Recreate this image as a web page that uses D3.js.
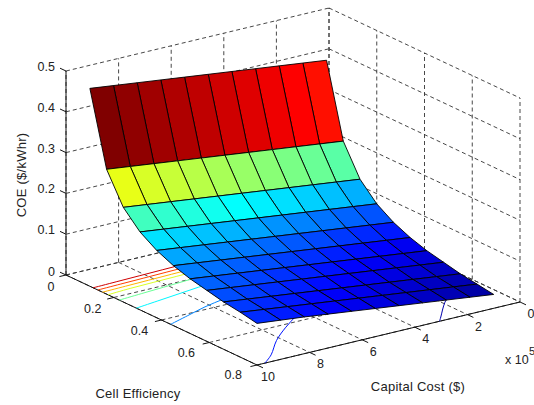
<!DOCTYPE html>
<html><head><meta charset="utf-8">
<script src="https://cdnjs.cloudflare.com/ajax/libs/d3/7.8.5/d3.min.js"></script>
<style>html,body{margin:0;padding:0;background:#fff;overflow:hidden}svg{display:block}text{font-family:"Liberation Sans",Arial,sans-serif;fill:#222}</style>
</head><body><svg id="c" width="534" height="405"></svg>
<script>
const costs=[1,1.9,2.8,3.7,4.6,5.5,6.4,7.3,8.2,9.1,10];
const efficiencies=[0.1,0.17,0.24,0.31,0.38,0.45,0.52,0.59,0.66,0.73,0.8];
const coe=[
[.415,.422,.429,.436,.443,.450,.457,.464,.471,.478,.485],
[.236,.243,.250,.257,.264,.271,.278,.285,.292,.299,.306],
[.162,.169,.176,.183,.190,.197,.204,.211,.218,.225,.232],
[.121,.128,.135,.142,.149,.156,.163,.170,.177,.184,.191],
[.095,.102,.109,.116,.123,.130,.137,.144,.151,.158,.165],
[.077,.084,.091,.098,.105,.112,.119,.126,.133,.140,.147],
[.064,.071,.078,.085,.092,.099,.106,.113,.120,.127,.134],
[.055,.062,.069,.076,.083,.090,.097,.104,.111,.118,.125],
[.046,.053,.060,.067,.074,.081,.088,.095,.102,.109,.116],
[.040,.047,.054,.061,.068,.075,.082,.089,.096,.103,.110],
[.034,.041,.048,.055,.062,.069,.076,.083,.090,.096,.102]];
const contourLevels=[.05,.1,.15,.2,.25,.3,.35,.4,.45];
const xTicks=[0,2,4,6,8,10];
const yTicks=[0,.2,.4,.6,.8];
const zTicks=[0,.1,.2,.3,.4,.5];

const svg=d3.select("#c");
const xH=d3.scaleLinear([0,10],[263,0]),xV=d3.scaleLinear([0,10],[-63,0]);
const yH=d3.scaleLinear([0,.8],[0,191]),yV=d3.scaleLinear([0,.8],[0,90]);
const zV=d3.scaleLinear([0,.5],[0,-204]);
const P=(x,y,z)=>[66+xH(x)+yH(y),275+xV(x)+yV(y)+zV(z)];
const line=d3.line();
const smooth=d3.line().curve(d3.curveCatmullRom);
const jet=d3.scaleLinear([0,.125,.375,.625,.875,1],["#00008f","#0000ff","#00ffff","#ffff00","#ff0000","#800000"]).clamp(true);
const color=d3.scaleLinear([.035,.485],[0,1]);

// dashed grids
const grid=svg.append("g").attr("fill","none").attr("stroke","#333").attr("stroke-width",.9).attr("stroke-dasharray","4 3");
const seg=(a,b)=>grid.append("path").attr("d",line([a,b]));
xTicks.forEach(x=>{seg(P(x,0,0),P(x,.8,0));seg(P(x,0,0),P(x,0,.5));});
yTicks.forEach(y=>{seg(P(10,y,0),P(0,y,0));seg(P(0,y,0),P(0,y,.5));});
zTicks.forEach(z=>{seg(P(10,0,z),P(0,0,z));seg(P(0,0,z),P(0,.8,z));});

// axes
const ax=svg.append("g").attr("fill","none").attr("stroke","#111").attr("stroke-width",1);
const as=(a,b)=>ax.append("path").attr("d",line([a,b]));
as(P(10,0,0),P(10,0,.5));as(P(10,0,0),P(10,.8,0));as(P(10,.8,0),P(0,.8,0));
zTicks.forEach(z=>as(P(10,0,z),P(10,-.025,z)));
yTicks.forEach(y=>as(P(10,y,0),P(10.25,y,0)));
xTicks.forEach(x=>as(P(x,.8,0),P(x,.825,0)));

// floor contours: crossings of each level along the grid's columns and far edge
const cg=svg.append("g").attr("fill","none").attr("stroke-width",1);
contourLevels.forEach(L=>{
  const pts=[];
  for(let i=costs.length-1;i>=0;i--){
    for(let j=0;j<efficiencies.length-1;j++){
      const a=coe[j][i],b=coe[j+1][i];
      if((a-L)*(b-L)<=0){const t=(a-L)/(a-b);pts.push([costs[i],efficiencies[j]+t*(efficiencies[j+1]-efficiencies[j])]);break;}
    }
    if(i>0){const a=coe[10][i],b=coe[10][i-1];
      if((a-L)*(b-L)<0){const t=(a-L)/(a-b);pts.push([costs[i]+t*(costs[i-1]-costs[i]),.8]);}}
  }
  pts.sort((p,q)=>q[1]-p[1]);
  cg.append("path").attr("stroke",jet(color(L))).attr("d",smooth(pts.map(p=>P(p[0],p[1],0))));
});

// surface, back to front
const sg=svg.append("g").attr("stroke","#000").attr("stroke-width",.9).attr("stroke-linejoin","round");
for(let j=0;j<efficiencies.length-1;j++)for(let i=0;i<costs.length-1;i++){
  const q=[[i,j],[i+1,j],[i+1,j+1],[i,j+1]].map(([a,b])=>P(costs[a],efficiencies[b],coe[b][a]));
  sg.append("path").attr("d",line(q)+"Z").attr("fill",jet(color(coe[j][i+1])));
}

// labels
const T=(x,y,s,anchor)=>svg.append("text").attr("x",x).attr("y",y).attr("font-size",12.5).attr("text-anchor",anchor||"middle").text(s);
zTicks.forEach(z=>{const p=P(10,0,z);T(p[0]-11,p[1]+(z==0?1:0),String(z),"end");});
yTicks.forEach(y=>{const p=P(10,y,0);T(p[0]-11.5-4.5*y,p[1]+16-2*y,String(y),"end");});
xTicks.forEach(x=>{const p=P(x,.8,0);T(p[0]+11,p[1]+16,String(x));});
T(505,364,"x 10","start");
T(529,355,"5","start").attr("font-size",11);
const A=(t)=>t.attr("font-size",13).attr("letter-spacing",.25);
A(T(138,398,"Cell Efficiency"));
A(T(418,391,"Capital Cost ($)"));
A(svg.append("text").attr("transform","translate(26,175) rotate(-90)").attr("text-anchor","middle").text("COE ($/kWhr)"));
</script></body></html>
